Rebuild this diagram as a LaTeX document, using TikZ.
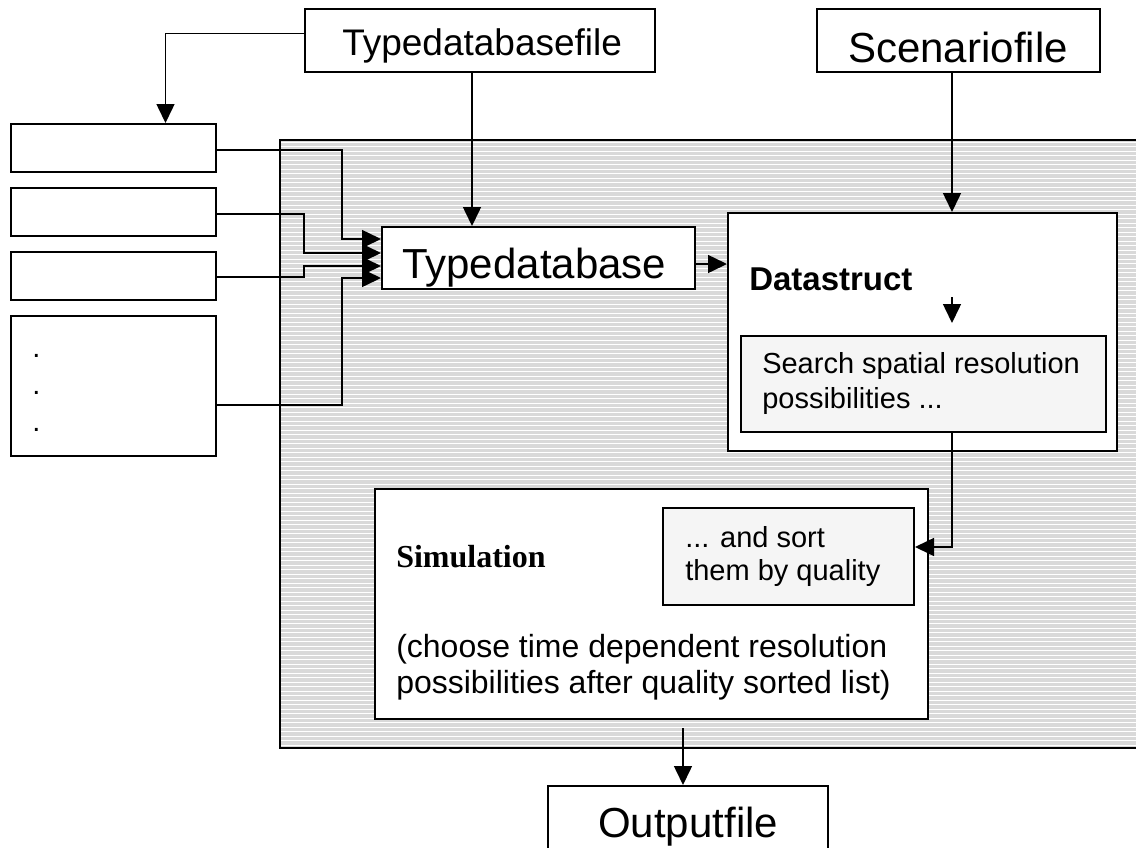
\documentclass[tikz,border=0pt]{standalone}
\usepackage{fontspec}
\setmainfont{Liberation Sans}
\newfontfamily\serifbold{Liberation Serif}[FakeBold=0]
\usetikzlibrary{arrows.meta,calc}

% one drawing unit = one pixel of the 1136 x 847 sheet, y grows downwards
\newdimen\pxu \pxu=0.75pt

\tikzset{
  box/.style={draw, line width=1.5pt, fill=white, inner sep=0pt},
  greybox/.style={box, fill=black!4},
  link/.style={line width=1.15pt},
  tip/.style={-{Triangle[length=14.25pt,width=13.5pt]}},
  txt/.style={inner sep=0pt, anchor=base west},
}

\begin{document}
\begin{tikzpicture}[x=0.75pt, y=-0.75pt]
\useasboundingbox (0,0) rectangle (1136,847);
\clip (0,0) rectangle (1136,847);

% striped program area
\fill[black!15] (280,140) rectangle (1150,748);
\foreach \k in {0,...,134}
  \fill[white] (281,{141.5+4.5*\k}) rectangle (1150,{142.9+4.5*\k});
\draw[line width=1.5pt] (1150,140) -- (280,140) -- (280,748) -- (1150,748);

% input / output files
\node[box, minimum width=350\pxu, minimum height=63\pxu] (tf) at (480,40.5) {};
\node[txt, font=\fontsize{27.75pt}{33pt}\selectfont] (tflab) at (342,55) {Typedatabasefile};
\node[box, minimum width=283\pxu, minimum height=63\pxu] (sc) at (958.5,40.5) {};
\node[txt, font=\fontsize{31.5pt}{37pt}\selectfont] (sclab) at (848,62) {Scenariofile};
\node[box, minimum width=280\pxu, minimum height=80\pxu] (out) at (688,826) {};
\node[txt, font=\fontsize{31.5pt}{37pt}\selectfont] (outlab) at (598,837) {Outputfile};

% type files on the left
\node[box, minimum width=205\pxu, minimum height=48\pxu] (b1) at (113.5,148) {};
\node[box, minimum width=205\pxu, minimum height=48\pxu] (b2) at (113.5,212) {};
\node[box, minimum width=205\pxu, minimum height=48\pxu] (b3) at (113.5,276) {};
\node[box, minimum width=205\pxu, minimum height=140\pxu] (b4) at (113.5,386) {};
\node[txt, font=\fontsize{21.75pt}{26pt}\selectfont] (d1) at (32,357) {.};
\node[txt, font=\fontsize{21.75pt}{26pt}\selectfont] (d2) at (32,394) {.};
\node[txt, font=\fontsize{21.75pt}{26pt}\selectfont] (d3) at (32,431) {.};

% type database
\node[box, minimum width=313\pxu, minimum height=62\pxu] (tdb) at (538.5,258) {};
\node[txt, font=\fontsize{31.5pt}{37pt}\selectfont] (tdblab) at (402,278) {Typedatabase};

% data structure
\node[box, minimum width=389\pxu, minimum height=238\pxu] (ds) at (922.5,332) {};
\node[txt, font=\fontsize{24.75pt}{30pt}\selectfont\bfseries] (dslab) at (749,290) {Datastruct};
\node[greybox, minimum width=365\pxu, minimum height=96\pxu] (se) at (923.5,384) {};
\node[txt, font=\fontsize{21.75pt}{26pt}\selectfont] (se1) at (762,373) {Search spatial resolution};
\node[txt, font=\fontsize{21.75pt}{26pt}\selectfont] (se2) at (762,408) {possibilities ...};

% simulation
\node[box, minimum width=553\pxu, minimum height=230\pxu] (sim) at (651.5,604) {};
\node[txt, font=\fontsize{24pt}{29pt}\serifbold\bfseries] (simlab) at (396,567) {Simulation};
\node[greybox, minimum width=251\pxu, minimum height=97\pxu] (so) at (788.5,556.5) {};
\node[txt, font=\fontsize{21.75pt}{26pt}\selectfont] (so1) at (685,547) {... and sort};
\node[txt, font=\fontsize{21.75pt}{26pt}\selectfont] (so2) at (685,580) {them by quality};
\node[txt, font=\fontsize{24pt}{29pt}\selectfont] (ch1) at (396,657) {(choose time dependent resolution};
\node[txt, font=\fontsize{24pt}{29pt}\selectfont] (ch2) at (396,693) {possibilities after quality sorted list)};

% connectors
\draw[link, tip] ($(tf.west)+(0,-7)$) -| ($(b1.north)+(52,0)$);
\coordinate (tdbin) at ($(tdb.north)+(-66.5,0)$);
\draw[link, tip] (tdbin |- tf.south) -- (tdbin);
\coordinate (dsin) at ($(ds.north)+(29.5,0)$);
\draw[link, tip] (dsin |- sc.south) -- (dsin);

\draw[link, tip] ($(b1.east)+(0,2)$) -| ($(tdb.west)+(-39,-19)$) -- ($(tdb.west)+(0,-19)$);
\draw[link, tip] ($(b2.east)+(0,2)$) -| ($(tdb.west)+(-77,-5)$) -- ($(tdb.west)+(0,-5)$);
\draw[link, tip] ($(b3.east)+(0,1)$) -| ($(tdb.west)+(-77,8)$) -- ($(tdb.west)+(0,8)$);
\draw[link, tip] ($(b4.east)+(0,19)$) -| ($(tdb.west)+(-39,20)$) -- ($(tdb.west)+(0,20)$);

\coordinate (tdbout) at ($(tdb.east)+(0,6)$);
\draw[link, tip] (tdbout) -- (tdbout -| ds.west);

\coordinate (dsa) at (952,297);
\coordinate (dsb) at (952,323);
\draw[link, tip] (dsa) -- (dsb);

\coordinate (seout) at (dsin |- se.south);
\coordinate (soin) at ($(so.east)+(0,-9.5)$);
\draw[link, tip] (seout) |- (soin);

\coordinate (simout) at (683,728);
\draw[link, tip] (simout) -- (simout |- out.north);
\end{tikzpicture}
\end{document}
